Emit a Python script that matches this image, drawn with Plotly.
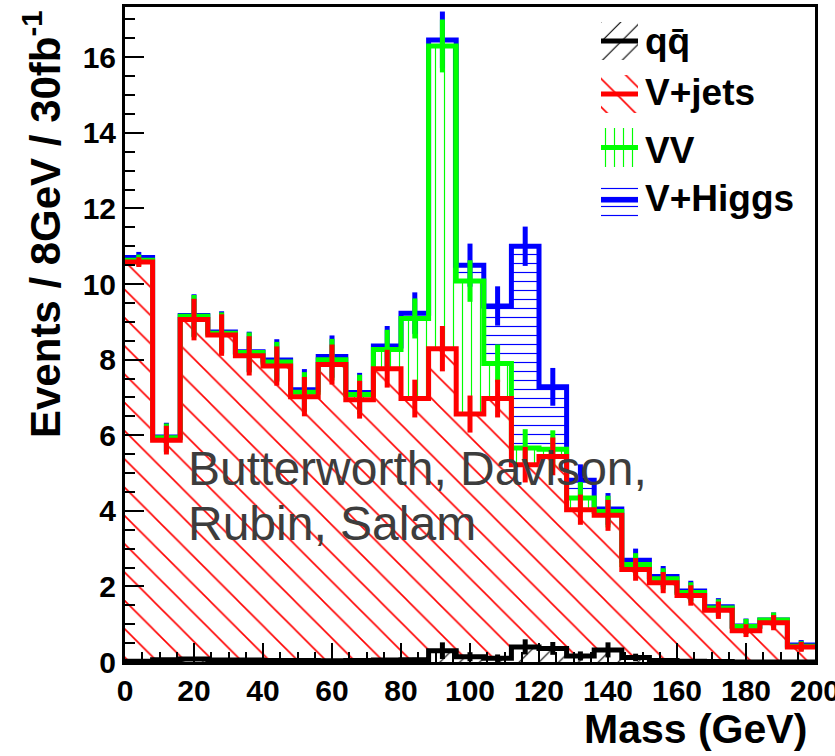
import plotly.graph_objects as go

# ---------------- data ----------------
bin_edges = list(range(0, 201, 8))               # 25 bins of 8 GeV
bin_centers = [e + 4 for e in bin_edges[:-1]]

qq    = [0.02, 0.06, 0.08, 0.05, 0.05, 0.04, 0.04, 0.03, 0.04, 0.05, 0.06, 0.30, 0.14,
         0.10, 0.40, 0.36, 0.16, 0.32, 0.12, 0.04, 0.02, 0.01, 0.00, 0.00, 0.00]
vjets = [10.56, 5.81, 8.98, 8.60, 8.05, 7.79, 6.98, 7.84, 6.90, 7.71, 6.91, 7.99, 6.42,
         6.87, 4.82, 5.08, 3.87, 3.56, 2.33, 2.06, 1.74, 1.36, 0.83, 1.04, 0.40]
vv    = [0.05, 0.06, 0.09, 0.05, 0.09, 0.11, 0.12, 0.13, 0.14, 0.51, 2.12, 8.01, 3.52,
         0.93, 0.44, 0.19, 0.31, 0.10, 0.13, 0.10, 0.08, 0.06, 0.11, 0.07, 0.02]
vh    = [0.07, 0.02, 0.02, 0.03, 0.02, 0.05, 0.06, 0.08, 0.05, 0.09, 0.14, 0.16, 0.42,
         1.52, 5.34, 1.65, 0.47, 0.07, 0.11, 0.06, 0.04, 0.03, 0.01, 0.00, 0.03]

# statistical errors on the stacked (cumulative) histograms
qq_err    = [0.02, 0.04, 0.05, 0.04, 0.04, 0.04, 0.04, 0.03, 0.03, 0.04, 0.05, 0.22, 0.12,
             0.10, 0.20, 0.17, 0.12, 0.20, 0.10, 0.04, 0.02, 0.01, 0.00, 0.00, 0.00]
vjets_err = [0.13, 0.38, 0.55, 0.55, 0.52, 0.52, 0.52, 0.53, 0.50, 0.50, 0.50, 0.60, 0.49,
             0.50, 0.47, 0.50, 0.40, 0.41, 0.30, 0.28, 0.27, 0.23, 0.17, 0.20, 0.13]
vv_err    = [0.15, 0.38, 0.56, 0.55, 0.53, 0.53, 0.53, 0.55, 0.52, 0.52, 0.53, 0.70, 0.55,
             0.50, 0.50, 0.50, 0.42, 0.42, 0.30, 0.28, 0.27, 0.23, 0.20, 0.20, 0.13]
vh_err    = [0.15, 0.38, 0.56, 0.55, 0.53, 0.55, 0.55, 0.56, 0.52, 0.53, 0.55, 0.75, 0.57,
             0.52, 0.52, 0.50, 0.42, 0.42, 0.31, 0.28, 0.27, 0.23, 0.20, 0.20, 0.13]

x_ticks = list(range(0, 201, 20))
y_ticks = list(range(0, 17, 2))
legend_labels = ["qq\u0304", "V+jets", "VV", "V+Higgs"]
author_lines = ["Butterworth, Davison,", "Rubin, Salam"]

# ---------------- geometry helpers ----------------
W, H = 835, 756
L, R, T, B = 125, 20, 7, 94
PW, PH = W - L - R, H - T - B


def px(xp):
    return (xp - L) / PW


def py(yp):
    return (H - B - yp) / PH


FONT = "Liberation Sans, Arial, Helvetica, sans-serif"

# cumulative stacks
c0 = [0.0] * len(qq)
c1 = [a + b for a, b in zip(c0, qq)]
c2 = [a + b for a, b in zip(c1, vjets)]
c3 = [a + b for a, b in zip(c2, vv)]
c4 = [a + b for a, b in zip(c3, vh)]

layers = [
    # name, lower, upper, colour, pattern shape, pattern size, solidity, errors
    ("qq", c0, c1, "#000000", "/", 14, 0.08, qq_err),
    ("V+jets", c1, c2, "#ff0000", "\\", 20, 0.08, vjets_err),
    ("VV", c2, c3, "#00ff00", "|", 9, 0.13, vv_err),
    ("V+Higgs", c3, c4, "#0000ff", "-", 9, 0.13, vh_err),
]

fig = go.Figure()

# hatched fills
for name, lo, hi, col, shp, sz, sol, _ in layers:
    fig.add_trace(go.Bar(
        x=bin_centers, y=[h - l for h, l in zip(hi, lo)], base=lo, width=8,
        marker=dict(color=col, line=dict(width=0),
                    pattern=dict(shape=shp, fgcolor=col, bgcolor="rgba(0,0,0,0)",
                                 size=sz, solidity=sol, fillmode="replace")),
        showlegend=False, hoverinfo="skip"))

# step outlines + error bars, drawn from the top of the stack down
for name, lo, hi, col, shp, sz, sol, err in reversed(layers):
    fig.add_trace(go.Scatter(
        x=bin_edges, y=hi + [hi[-1]], mode="lines", line=dict(color=col, width=5, shape="hv"),
        showlegend=False, hoverinfo="skip"))
    fig.add_trace(go.Scatter(
        x=bin_centers, y=hi, mode="markers", marker=dict(size=1, color=col),
        error_y=dict(type="data", array=err, visible=True, thickness=5, width=0, color=col),
        showlegend=False, hoverinfo="skip"))

# legend symbols drawn on a small auxiliary axis pair
sym_x0, sym_x1 = 601, 638
rows = [(22, 60), (75, 113), (128, 167), (182, 218)]
for (name, lo, hi, col, shp, sz, sol, _), (r0, r1) in zip(layers, rows):
    fig.add_trace(go.Bar(
        x=[(sym_x0 + sym_x1) / 2], y=[r1 - r0], base=[r0], width=sym_x1 - sym_x0,
        xaxis="x2", yaxis="y2",
        marker=dict(color=col, line=dict(width=0),
                    pattern=dict(shape=shp, fgcolor=col, bgcolor="rgba(0,0,0,0)",
                                 size=sz, solidity=sol, fillmode="replace")),
        showlegend=False, hoverinfo="skip"))

shapes = []
for (name, lo, hi, col, *_), (r0, r1) in zip(layers, rows):
    yc = (r0 + r1) / 2
    shapes.append(dict(type="line", xref="x2", yref="y2", x0=sym_x0, x1=sym_x1, y0=yc, y1=yc,
                       line=dict(color=col, width=5)))

annotations = []
legend_text_y = [41, 93, 150, 198]
for lab, yc in zip(legend_labels, legend_text_y):
    annotations.append(dict(text=lab, xref="paper", yref="paper", x=px(643), y=py(yc),
                            xanchor="left", yanchor="middle", showarrow=False,
                            font=dict(family=FONT, size=37, color="black", weight="bold")))

for line, yc in zip(author_lines, [468, 523]):
    annotations.append(dict(text=line, xref="paper", yref="paper", x=px(186), y=py(yc),
                            xanchor="left", yanchor="middle", showarrow=False,
                            font=dict(family=FONT, size=48, color="#3d3d3d")))

annotations.append(dict(text="Events / 8GeV / 30fb<sup>-1</sup>", textangle=-90,
                        xref="paper", yref="paper", x=px(42), y=py(224),
                        xanchor="center", yanchor="middle", showarrow=False,
                        font=dict(family=FONT, size=42, color="black", weight="bold")))
annotations.append(dict(text="Mass (GeV)", xref="paper", yref="paper", x=px(809), y=py(729),
                        xanchor="right", yanchor="middle", showarrow=False,
                        font=dict(family=FONT, size=41, color="black", weight="bold")))

axis_common = dict(showgrid=False, zeroline=False, showline=True, linecolor="black",
                   linewidth=3, mirror=True, ticks="inside", tickwidth=2, tickcolor="black",
                   ticklen=19, ticklabeloverflow="allow", automargin=False,
                   tickfont=dict(family=FONT, size=30, color="black", weight="bold"))

fig.update_layout(
    width=W, height=H, margin=dict(l=L, r=R, t=T, b=B, autoexpand=False),
    plot_bgcolor="white", paper_bgcolor="white",
    barmode="overlay", bargap=0, showlegend=False,
    xaxis=dict(range=[0, 200], tickvals=x_ticks, ticktext=[str(v) for v in x_ticks],
               minor=dict(dtick=5, ticks="inside", ticklen=10, tickwidth=2, tickcolor="black"),
               **axis_common),
    yaxis=dict(range=[0, 17.33], tickvals=y_ticks, ticktext=[str(v) for v in y_ticks],
               minor=dict(dtick=0.5, ticks="inside", ticklen=10, tickwidth=2, tickcolor="black"),
               **axis_common),
    xaxis2=dict(domain=[px(sym_x0), px(sym_x1)], range=[sym_x0, sym_x1], anchor="y2",
                visible=False, fixedrange=True),
    yaxis2=dict(domain=[py(rows[-1][1]), py(rows[0][0])], range=[rows[-1][1], rows[0][0]],
                anchor="x2", visible=False, fixedrange=True),
    shapes=shapes, annotations=annotations,
)

fig.write_html("out.html")
